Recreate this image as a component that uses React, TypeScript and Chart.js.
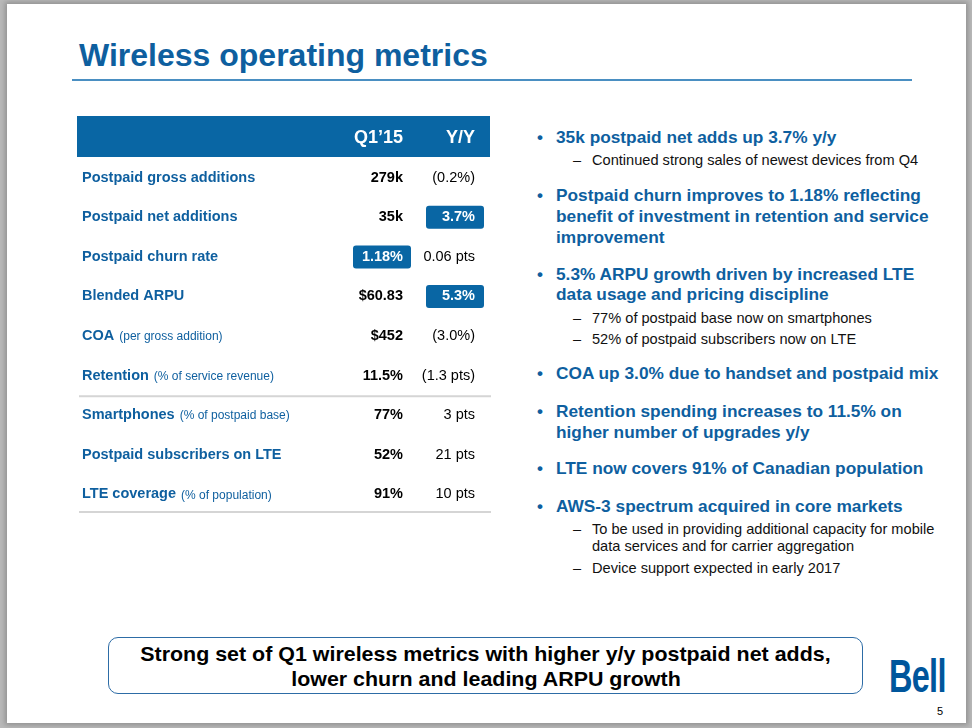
import React, { useEffect, useRef } from "react";
import { Chart, registerables } from "chart.js";

Chart.register(...registerables);

// ---------- table data ----------
const columnHeaders = ["Q1\u201915", "Y/Y"];
const rowLabels = [
  "Postpaid gross additions",
  "Postpaid net additions",
  "Postpaid churn rate",
  "Blended ARPU",
  "COA",
  "Retention",
  "Smartphones",
  "Postpaid subscribers on LTE",
  "LTE coverage",
];
const rowNotes = [
  "",
  "",
  "",
  "",
  "(per gross addition)",
  "(% of service revenue)",
  "(% of postpaid base)",
  "",
  "(% of population)",
];
const q1Values = ["279k", "35k", "1.18%", "$60.83", "$452", "11.5%", "77%", "52%", "91%"];
const yyValues = ["(0.2%)", "3.7%", "0.06 pts", "5.3%", "(3.0%)", "(1.3 pts)", "3 pts", "21 pts", "10 pts"];
const q1Highlight = [false, false, true, false, false, false, false, false, false];
const yyHighlight = [false, true, false, true, false, false, false, false, false];
const groupBreakAfter = [5];

// ---------- slide text ----------
const titleText = "Wireless operating metrics";
const bulletLines = [
  "35k postpaid net adds up 3.7% y/y",
  "Continued strong sales of newest devices from Q4",
  "Postpaid churn improves to 1.18% reflecting",
  "benefit of investment in retention and service",
  "improvement",
  "5.3% ARPU growth driven by increased LTE",
  "data usage and pricing discipline",
  "77% of postpaid base now on smartphones",
  "52% of postpaid subscribers now on LTE",
  "COA up 3.0% due to handset and postpaid mix",
  "Retention spending increases to 11.5% on",
  "higher number of upgrades y/y",
  "LTE now covers 91% of Canadian population",
  "AWS-3 spectrum acquired in core markets",
  "To be used in providing additional capacity for mobile",
  "data services and for carrier aggregation",
  "Device support expected in early 2017",
];
// kinds: B = main bullet, M = main continuation, D = sub dash, S = sub continuation
const bulletKinds = ["B", "D", "B", "M", "M", "B", "M", "D", "D", "B", "B", "M", "B", "B", "D", "S", "D"];
const summaryLines = [
  "Strong set of Q1 wireless metrics with higher y/y postpaid net adds,",
  "lower churn and leading ARPU growth",
];

// ---------- layout (not data) ----------
const bulletRowY = [137, 160, 195, 216, 237, 274, 294, 318, 339, 373, 411, 432, 468, 506, 529, 546, 568];
const FONT = "'Liberation Sans', Arial, Helvetica, sans-serif";
const BLUE = "#0e5f9f";
const BAND = "#0966a4";

function roundRect(ctx: CanvasRenderingContext2D, x: number, y: number, w: number, h: number, r: number) {
  ctx.beginPath();
  ctx.moveTo(x + r, y);
  ctx.lineTo(x + w - r, y);
  ctx.quadraticCurveTo(x + w, y, x + w, y + r);
  ctx.lineTo(x + w, y + h - r);
  ctx.quadraticCurveTo(x + w, y + h, x + w - r, y + h);
  ctx.lineTo(x + r, y + h);
  ctx.quadraticCurveTo(x, y + h, x, y + h - r);
  ctx.lineTo(x, y + r);
  ctx.quadraticCurveTo(x, y, x + r, y);
  ctx.closePath();
}

const tablePlugin = {
  id: "metricsTable",
  afterDraw(chart: any) {
    const ctx: CanvasRenderingContext2D = chart.ctx;
    const ys = chart.scales.y;
    const area = chart.chartArea;
    const labelX = 12;
    const q1Right = 333;
    const yyRight = 405;
    ctx.save();
    // header band
    ctx.fillStyle = BAND;
    ctx.fillRect(7, 6, 413, 41);
    ctx.fillStyle = "#ffffff";
    ctx.font = `bold 18px ${FONT}`;
    ctx.textAlign = "right";
    ctx.textBaseline = "middle";
    ctx.fillText(columnHeaders[0], q1Right, 28);
    ctx.fillText(columnHeaders[1], yyRight, 28);

    rowLabels.forEach((label, i) => {
      const y = ys.getPixelForValue(i);
      // label
      ctx.textAlign = "left";
      ctx.fillStyle = BLUE;
      ctx.font = `bold 14.5px ${FONT}`;
      ctx.fillText(label, labelX, y);
      if (rowNotes[i]) {
        const w = ctx.measureText(label).width;
        ctx.font = `12px ${FONT}`;
        ctx.fillText(rowNotes[i], labelX + w + 5, y + 1);
      }
      // Q1 value
      ctx.textAlign = "right";
      if (q1Highlight[i]) {
        ctx.fillStyle = BAND;
        roundRect(ctx, 283, y - 11.5, 58, 23, 3);
        ctx.fill();
        ctx.fillStyle = "#ffffff";
      } else {
        ctx.fillStyle = "#000000";
      }
      ctx.font = `bold 14.5px ${FONT}`;
      ctx.fillText(q1Values[i], q1Right, y);
      // Y/Y value
      if (yyHighlight[i]) {
        ctx.fillStyle = BAND;
        roundRect(ctx, 356, y - 11.5, 58, 23, 3);
        ctx.fill();
        ctx.fillStyle = "#ffffff";
        ctx.font = `bold 14.5px ${FONT}`;
      } else {
        ctx.fillStyle = "#000000";
        ctx.font = `14.5px ${FONT}`;
      }
      ctx.fillText(yyValues[i], yyRight, y);
    });

    // separator lines
    ctx.strokeStyle = "#d5d5d5";
    ctx.lineWidth = 2;
    const lines: number[] = groupBreakAfter.map(
      (i) => (ys.getPixelForValue(i) + ys.getPixelForValue(i + 1)) / 2 + 1
    );
    lines.push(area.bottom - 2);
    lines.forEach((ly) => {
      ctx.beginPath();
      ctx.moveTo(9, ly);
      ctx.lineTo(421, ly);
      ctx.stroke();
    });
    ctx.restore();
  },
};

function MetricsTable() {
  const ref = useRef<HTMLCanvasElement | null>(null);
  useEffect(() => {
    if (!ref.current) return;
    const chart = new Chart(ref.current, {
      type: "bar",
      data: {
        labels: rowLabels,
        datasets: [{ data: rowLabels.map(() => null as any), backgroundColor: "transparent" }],
      },
      options: {
        indexAxis: "y",
        responsive: true,
        maintainAspectRatio: false,
        animation: false,
        events: [],
        layout: { padding: { top: 48, bottom: 6, left: 0, right: 0 } },
        plugins: { legend: { display: false }, tooltip: { enabled: false } },
        scales: {
          x: { display: false, min: 0, max: 1 },
          y: { display: false, offset: true },
        },
      },
      plugins: [tablePlugin],
    });
    return () => chart.destroy();
  }, []);
  return (
    <div style={{ position: "absolute", left: 70, top: 110, width: 430, height: 410 }}>
      <canvas ref={ref} />
    </div>
  );
}

function TextLine(props: {
  x: number;
  cy: number;
  size: number;
  bold?: boolean;
  color: string;
  children: React.ReactNode;
  style?: React.CSSProperties;
}) {
  const lh = Math.round(props.size * 1.25);
  return (
    <div
      style={{
        position: "absolute",
        left: props.x,
        top: props.cy - lh / 2,
        fontSize: props.size,
        lineHeight: `${lh}px`,
        fontWeight: props.bold ? 700 : 400,
        color: props.color,
        whiteSpace: "nowrap",
        ...props.style,
      }}
    >
      {props.children}
    </div>
  );
}

export default function App() {
  return (
    <div
      style={{
        position: "absolute",
        left: 0,
        top: 0,
        width: 972,
        height: 728,
        overflow: "hidden",
        background: "#b9b9b9",
        fontFamily: FONT,
      }}
    >
      <div
        style={{
          position: "absolute",
          left: 7,
          top: 4,
          width: 959,
          height: 719,
          background: "#ffffff",
          boxShadow: "0 0 5px 2px rgba(0,0,0,0.22)",
        }}
      />
      {/* title */}
      <TextLine x={79} cy={55} size={32} bold color={BLUE}>
        {titleText}
      </TextLine>
      <div
        style={{ position: "absolute", left: 72, top: 79, width: 840, height: 2, background: "#4a8fc2" }}
      />

      <MetricsTable />

      {/* right bullets */}
      {bulletLines.map((t, i) => {
        const k = bulletKinds[i];
        const y = bulletRowY[i];
        if (k === "B" || k === "M") {
          return (
            <React.Fragment key={i}>
              {k === "B" && (
                <TextLine x={537} cy={y} size={17} bold color={BLUE}>
                  {"\u2022"}
                </TextLine>
              )}
              <TextLine x={556} cy={y} size={17.3} bold color={BLUE}>
                {t}
              </TextLine>
            </React.Fragment>
          );
        }
        return (
          <React.Fragment key={i}>
            {k === "D" && (
              <TextLine x={573} cy={y} size={14.5} color="#111111">
                {"\u2013"}
              </TextLine>
            )}
            <TextLine x={592} cy={y} size={14.6} color="#111111">
              {t}
            </TextLine>
          </React.Fragment>
        );
      })}

      {/* summary box */}
      <div
        style={{
          position: "absolute",
          left: 108,
          top: 637,
          width: 753,
          height: 55,
          border: "1.5px solid #2d6ca6",
          borderRadius: 10,
          display: "flex",
          flexDirection: "column",
          alignItems: "center",
          justifyContent: "center",
        }}
      >
        {summaryLines.map((s, i) => (
          <div
            key={i}
            style={{
              fontSize: 21,
              lineHeight: "25px",
              fontWeight: 700,
              color: "#000",
              whiteSpace: "nowrap",
              transform: "scaleX(1.02)",
            }}
          >
            {s}
          </div>
        ))}
      </div>

      {/* logo */}
      <div
        style={{
          position: "absolute",
          left: 889,
          top: 652,
          fontSize: 47,
          lineHeight: "47px",
          fontWeight: 700,
          color: "#00569c",
          transform: "scaleX(0.69)",
          transformOrigin: "left center",
          letterSpacing: -1,
        }}
      >
        Bell
      </div>
      <TextLine x={937} cy={711} size={11} color="#000">
        5
      </TextLine>
    </div>
  );
}
